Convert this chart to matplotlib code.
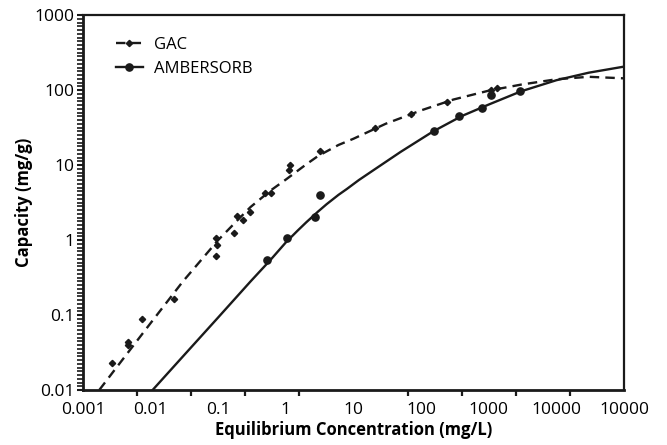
import numpy as np
import matplotlib
matplotlib.use('Agg')
import matplotlib.pyplot as plt
from matplotlib.ticker import NullFormatter

plt.rcParams['font.family'] = ['Open Sans', 'DejaVu Sans']

# measured points
gac_x = [0.00266, 0.0047, 0.0047, 0.0075, 0.022, 0.092, 0.095, 0.093, 0.171, 0.19,
         0.23, 0.29, 0.49, 0.60, 1.15, 1.1, 3.2, 21, 71, 240, 1070, 1320]
gac_y = [0.0227, 0.044, 0.040, 0.0885, 0.163, 1.07, 0.86, 0.61, 1.23, 2.09,
         1.85, 2.38, 4.27, 4.27, 10, 8.6, 15.5, 30.8, 47.9, 69.8, 100, 107]

amb_x = [0.52, 1.05, 2.7, 3.2, 156, 364, 790, 1080, 2910]
amb_y = [0.54, 1.05, 2.0, 4.0, 28.7, 45, 57, 86, 97]

# fitted isotherm curves
gac_fit_x = [0.00174, 0.003, 0.01, 0.03, 0.1, 0.2, 0.3, 0.6, 1, 2, 3, 6, 10, 30, 100, 300,
             1000, 3000, 10000, 30000, 100000]
gac_fit_y = [0.01, 0.019, 0.078, 0.28, 1.0, 1.9, 2.75, 4.6, 6.4, 10.2, 13.2, 18.5, 22.4,
             35.5, 53.5, 74.6, 98, 118, 139, 150, 143]

amb_fit_x = [0.0107, 0.03, 0.1, 0.3, 0.6, 1, 1.5, 2, 3, 4, 6, 8, 12, 20, 50, 150, 400, 1000,
             3000, 10000, 30000, 100000]
amb_fit_y = [0.01, 0.028, 0.093, 0.28, 0.55, 0.93, 1.34, 1.72, 2.4, 3.0, 4.0, 4.8, 6.3, 8.6,
             15, 28, 45, 64, 96, 135, 170, 205]

x_tick_vals = [0.001, 0.01, 0.1, 1, 10, 100, 1000, 10000, 100000]
x_tick_labels = ['0.001', '0.01', '0.1', '1', '10', '100', '1000', '10000', '10000']
y_tick_vals = [0.01, 0.1, 1, 10, 100, 1000]
y_tick_labels = ['0.01', '0.1', '1', '10', '100', '1000']

fig = plt.figure(figsize=(6.67, 4.45), dpi=100)
ax = fig.add_axes([83 / 667, 55 / 445, 541 / 667, 375 / 445])

ink = '#1a1a1a'
ax.plot(gac_fit_x, gac_fit_y, color=ink, lw=1.7, dashes=(4, 2.6))
ax.plot(amb_fit_x, amb_fit_y, color=ink, lw=1.7)
ax.plot(gac_x, gac_y, ls='none', marker='D', ms=3.2, color=ink)
ax.plot(amb_x, amb_y, ls='none', marker='o', ms=5.2, color=ink)

# legend handles
ax.plot([], [], color=ink, lw=1.7, dashes=(4, 2.6), marker='D', ms=3.2, label='GAC')
ax.plot([], [], color=ink, lw=1.7, marker='o', ms=5.2, label='AMBERSORB')
ax.legend(loc='upper left', frameon=False, fontsize=12, handlelength=1.6,
          handletextpad=0.7, borderaxespad=0.6, labelspacing=0.45,
          bbox_to_anchor=(0.03, 0.985))

ax.set_xscale('log')
ax.set_yscale('log')
ax.set_xlim(0.001, 100000)
ax.set_ylim(0.01, 1000)

# x: labels at decades, tick marks at 11 even steps
ax.set_xticks(x_tick_vals)
ax.set_xticklabels(x_tick_labels)
ax.set_xticks(np.logspace(-3, 5, 11), minor=True)
ax.xaxis.set_minor_formatter(NullFormatter())
ax.tick_params(axis='x', which='major', length=0, labelsize=12.5, pad=9)
ax.tick_params(axis='x', which='minor', length=4, width=1.6, direction='out', color=ink)

ax.set_yticks(y_tick_vals)
ax.set_yticklabels(y_tick_labels)
ax.set_yticks(np.logspace(-2, 3, 101), minor=True)
ax.yaxis.set_minor_formatter(NullFormatter())
ax.tick_params(axis='y', which='major', length=4, width=1.5, labelsize=12.5, pad=2, color=ink)
ax.tick_params(axis='y', which='minor', length=4, width=1.2, color=ink)

for side in ['left', 'bottom']:
    ax.spines[side].set_linewidth(2)
for side in ['top', 'right']:
    ax.spines[side].set_linewidth(1.6)
for s in ax.spines.values():
    s.set_color(ink)

ax.set_xlabel('Equilibrium Concentration (mg/L)', fontsize=12, fontweight='bold', labelpad=2)
ax.set_ylabel('Capacity (mg/g)', fontsize=12, fontweight='bold', labelpad=1)

fig.savefig('out.png', dpi=100)
